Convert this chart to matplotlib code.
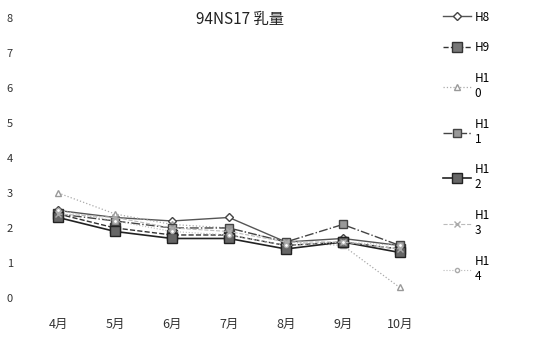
import matplotlib.pyplot as plt

plt.rcParams['font.family'] = ['Noto Sans CJK JP', 'DejaVu Sans']

# months and yields
months = ['4月', '5月', '6月', '7月', '8月', '9月', '10月']
h8 = [2.5, 2.3, 2.2, 2.3, 1.6, 1.7, 1.5]
h9 = [2.4, 2.0, 1.8, 1.8, 1.5, 1.6, 1.4]
h10 = [3.0, 2.4, 2.1, 2.0, 1.6, 1.5, 0.3]
h11 = [2.4, 2.2, 2.0, 2.0, 1.6, 2.1, 1.5]
h12 = [2.3, 1.9, 1.7, 1.7, 1.4, 1.6, 1.3]
h13 = [2.4, 2.3, 2.0, 1.9, 1.6, 1.6, 1.4]
h14 = [2.5, 2.2, 1.9, 1.8, 1.5, 1.6, 1.5]
labels = ['H8', 'H9', 'H1\n0', 'H1\n1', 'H1\n2', 'H1\n3', 'H1\n4']
yticks = [0, 1, 2, 3, 4, 5, 6, 7, 8]

fig = plt.figure(figsize=(5.4, 3.51), dpi=100)
ax = fig.add_axes([0.055, 0.151, 0.738, 0.798])

x = range(len(months))
ax.plot(x, h8, color='#555555', lw=1.0, marker='D', ms=4, mfc='white', mec='#444444', label=labels[0])
ax.plot(x, h9, color='#333333', lw=1.0, ls='--', marker='s', ms=7, mfc='#777777', mec='#333333', label=labels[1])
ax.plot(x, h10, color='#aaaaaa', lw=0.9, ls=':', marker='^', ms=5, mfc='white', mec='#999999', label=labels[2])
ax.plot(x, h11, color='#444444', lw=1.0, ls='-.', marker='s', ms=6, mfc='#999999', mec='#444444', label=labels[3])
ax.plot(x, h12, color='#222222', lw=1.2, marker='s', ms=7, mfc='#666666', mec='#222222', label=labels[4])
ax.plot(x, h13, color='#bbbbbb', lw=0.8, ls='--', marker='x', ms=4, mec='#aaaaaa', label=labels[5])
ax.plot(x, h14, color='#bbbbbb', lw=0.8, ls=':', marker='o', ms=3, mfc='white', mec='#aaaaaa', label=labels[6])

ax.set_xlim(-0.5, 6.5)
ax.set_ylim(0, 8)
ax.set_xticks(list(x))
ax.set_xticklabels(months, fontsize=9, color='#333333')
ax.set_yticks(yticks)
ax.set_yticklabels([str(v) for v in yticks], fontsize=8, color='#333333')
ax.tick_params(axis='both', length=0)
ax.tick_params(axis='x', pad=14)
ax.tick_params(axis='y', pad=12)
for s in ax.spines.values():
    s.set_visible(False)

fig.text(0.445, 0.945, '94NS17 乳量', fontsize=11, ha='center', va='center', color='#222222')

fig.legend(loc='upper left', bbox_to_anchor=(0.80, 1.0), frameon=False, fontsize=8.5,
           labelspacing=1.5, handlelength=2.4, handletextpad=0.3)

fig.savefig('out.png', dpi=100)
